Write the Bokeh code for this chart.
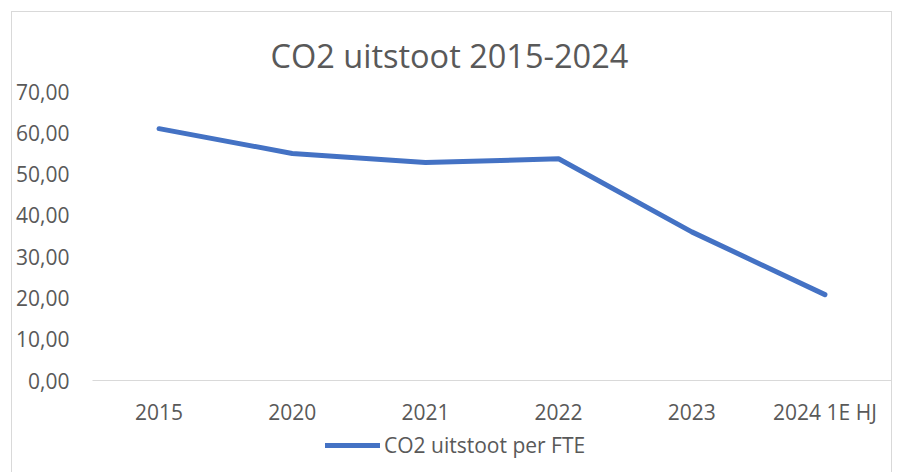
from bokeh.plotting import figure
from bokeh.layouts import column
from bokeh.models import (FixedTicker, Legend, LegendItem, FactorRange, Range1d,
                          InlineStyleSheet)
from bokeh.embed import file_html
from bokeh.resources import INLINE

# ---- data ----
years = ["2015", "2020", "2021", "2022", "2023", "2024 1E HJ"]
co2_per_fte = [61.0, 55.0, 52.8, 53.7, 36.0, 20.8]
y_ticks = [0, 10, 20, 30, 40, 50, 60, 70]
y_tick_labels = ["0,00", "10,00", "20,00", "30,00", "40,00", "50,00", "60,00", "70,00"]
title_text = "CO2 uitstoot 2015-2024"
series_name = "CO2 uitstoot per FTE"

FONT = "Open Sans"
TXT = "#595959"
LINE = "#4472C4"

border_css = InlineStyleSheet(css="""
:host { position: relative; }
:host::after {
  content: ""; position: absolute; left: 11px; top: 11px; right: 5px; bottom: 0px;
  border: 1.5px solid #D9D9D9; border-bottom: none; pointer-events: none;
}
""")

p = figure(width=897, height=430, output_backend="svg", toolbar_location=None,
           x_range=FactorRange(*years, range_padding=0), y_range=Range1d(0, 70),
           min_border_left=92, min_border_right=6, min_border_top=91,
           min_border_bottom=50)
p.outline_line_color = None
p.background_fill_color = "white"
p.border_fill_color = "white"
p.xgrid.visible = False
p.ygrid.visible = False

r = p.line(x=years, y=co2_per_fte, line_width=5, line_color=LINE,
           line_cap="round", line_join="round")

# title
p.title.text = title_text
p.title.align = "left"
p.title.offset = 178
p.title.standoff = 27
p.title.text_font = FONT
p.title.text_font_size = "32.5px"
p.title.text_font_style = "normal"
p.title.text_color = TXT

# y axis
p.yaxis.ticker = FixedTicker(ticks=y_ticks)
p.yaxis.major_label_overrides = {t: s for t, s in zip(y_ticks, y_tick_labels)}
p.yaxis.axis_line_color = None
p.yaxis.major_tick_line_color = None
p.yaxis.minor_tick_line_color = None
p.yaxis.major_tick_out = 0
p.yaxis.major_label_standoff = 23
p.yaxis.major_label_text_font = FONT
p.yaxis.major_label_text_font_size = "21px"
p.yaxis.major_label_text_color = TXT

# x axis
p.xaxis.axis_line_color = "#D9D9D9"
p.xaxis.axis_line_width = 1
p.xaxis.major_tick_line_color = None
p.xaxis.minor_tick_line_color = None
p.xaxis.major_tick_out = 0
p.xaxis.major_label_standoff = 17
p.xaxis.major_label_text_font = FONT
p.xaxis.major_label_text_font_size = "21px"
p.xaxis.major_label_text_color = TXT

# legend strip (same series, drawn out of view; only its legend shows)
p2 = figure(width=897, height=42, output_backend="svg", toolbar_location=None,
            x_range=FactorRange(*years), y_range=Range1d(1000, 1001),
            x_axis_location=None, y_axis_location=None,
            min_border_left=0, min_border_right=0, min_border_top=0,
            min_border_bottom=0)
p2.outline_line_color = None
p2.xgrid.visible = False
p2.ygrid.visible = False
p2.background_fill_color = "white"
p2.border_fill_color = "white"
r2 = p2.line(x=years, y=co2_per_fte, line_width=5, line_color=LINE,
             line_cap="round", line_join="round")

legend = Legend(items=[LegendItem(label=series_name, renderers=[r2])],
                location=(233, 13), orientation="horizontal",
                padding=0, margin=0, spacing=0, label_standoff=4,
                glyph_width=55, glyph_height=28, label_height=28,
                border_line_color=None, background_fill_alpha=0,
                label_text_font=FONT, label_text_font_size="21px",
                label_text_color=TXT)
p2.add_layout(legend, "center")

layout = column(p, p2, spacing=0, stylesheets=[border_css])

open("out.html", "w").write(file_html(layout, INLINE))
